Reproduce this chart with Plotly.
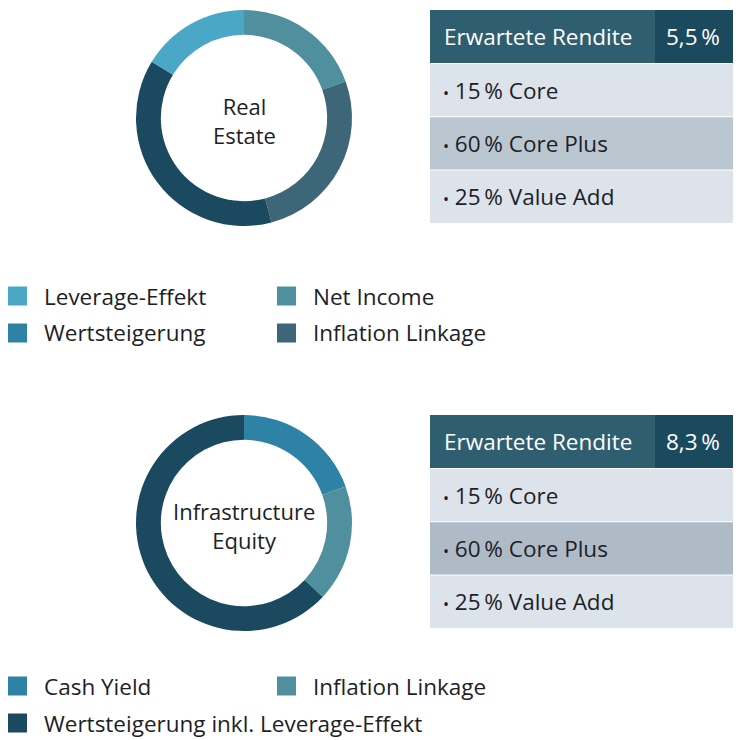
import plotly.graph_objects as go

W, H = 740, 740

# ---- data ----
re_labels = ["Net Income", "Inflation Linkage", "Wertsteigerung", "Leverage-Effekt"]
re_values = [19.5, 26.4, 37.8, 16.3]
re_colors = ["#508F9E", "#3D6679", "#1B4A60", "#4AA8C6"]

inf_labels = ["Cash Yield", "Inflation Linkage", "Wertsteigerung inkl. Leverage-Effekt"]
inf_values = [19.5, 17.5, 63.0]
inf_colors = ["#2E82A6", "#508F9E", "#1B4A60"]

re_legend = ["Leverage-Effekt", "Net Income", "Wertsteigerung", "Inflation Linkage"]
re_legend_colors = ["#4AA8C6", "#508F9E", "#2E82A6", "#3D6679"]
inf_legend = ["Cash Yield", "Inflation Linkage", "Wertsteigerung inkl. Leverage-Effekt"]
inf_legend_colors = ["#2E82A6", "#508F9E", "#1B4A60"]

table_header = "Erwartete Rendite"
returns = ["5,5\u2009%", "8,3\u2009%"]
table_rows = ["15\u2009% Core", "60\u2009% Core Plus", "25\u2009% Value Add"]
centre_titles = ["Real<br>Estate", "Infrastructure<br>Equity"]

FONT = "Open Sans"
FS = 22.5
FS_C = 22
TXT = "#1E1E28"

def px(x):
    return x / W

def py(y):
    return 1 - y / H

fig = go.Figure()
shapes = []
ann = []

blocks = [
    dict(labels=re_labels, values=re_values, colors=re_colors, top=10,
         legend=re_legend, lcolors=re_legend_colors, ltop=296,
         row_mid="#BAC7D1", ret=returns[0], title=centre_titles[0]),
    dict(labels=inf_labels, values=inf_values, colors=inf_colors, top=415,
         legend=inf_legend, lcolors=inf_legend_colors, ltop=686,
         row_mid="#AEBAC6", ret=returns[1], title=centre_titles[1]),
]

for b in blocks:
    t = b["top"]
    # donut
    fig.add_trace(go.Pie(
        labels=b["labels"], values=b["values"], hole=0.77, sort=False,
        direction="clockwise", rotation=0,
        marker=dict(colors=b["colors"], line=dict(width=0)),
        textinfo="none", hoverinfo="label+percent", showlegend=False,
        domain=dict(x=[px(136), px(352)], y=[py(t + 216), py(t)]),
    ))
    ann.append(dict(x=px(244), y=py(t + 110), xref="paper", yref="paper",
                    text=b["title"], showarrow=False, align="center",
                    xanchor="center", yanchor="middle",
                    font=dict(family=FONT, size=FS_C, color=TXT)))
    # table
    x0, x1, xs = 430, 733, 655
    hh = 53
    shapes.append(dict(type="rect", xref="paper", yref="paper", x0=px(x0), x1=px(xs),
                       y0=py(t + hh), y1=py(t), fillcolor="#2F5E71", line=dict(width=0)))
    shapes.append(dict(type="rect", xref="paper", yref="paper", x0=px(xs), x1=px(x1),
                       y0=py(t + hh), y1=py(t), fillcolor="#1B4A5F", line=dict(width=0)))
    ann.append(dict(x=px(442), y=py(t + hh / 2), xref="paper", yref="paper",
                    text=table_header, showarrow=False, xanchor="left", yanchor="middle",
                    font=dict(family=FONT, size=FS, color="white")))
    ann.append(dict(x=px(722), y=py(t + hh / 2), xref="paper", yref="paper",
                    text=b["ret"], showarrow=False, xanchor="right", yanchor="middle",
                    font=dict(family=FONT, size=FS, color="white")))
    rh = 53.3
    for i, r in enumerate(table_rows):
        y0 = t + hh + 1 + i * rh
        fill = b["row_mid"] if i == 1 else "#DCE3EA"
        shapes.append(dict(type="rect", xref="paper", yref="paper", x0=px(x0), x1=px(x1),
                           y0=py(y0 + rh - 1), y1=py(y0), fillcolor=fill, line=dict(width=0)))
        ann.append(dict(x=px(441), y=py(y0 + rh / 2 - 0.5), xref="paper", yref="paper",
                        text="<span style='font-size:16px'>\u2022</span> " + r,
                        showarrow=False, xanchor="left", yanchor="middle",
                        font=dict(family=FONT, size=FS, color=TXT)))
    # legend
    for i, (lab, col) in enumerate(zip(b["legend"], b["lcolors"])):
        row, colm = divmod(i, 2)
        lx = 8 if colm == 0 else 277
        ly = b["ltop"] + row * 37
        shapes.append(dict(type="rect", xref="paper", yref="paper", x0=px(lx), x1=px(lx + 19),
                           y0=py(ly + 9.5), y1=py(ly - 9.5), fillcolor=col, line=dict(width=0)))
        ann.append(dict(x=px(lx + 34), y=py(ly), xref="paper", yref="paper",
                        text=lab, showarrow=False, xanchor="left", yanchor="middle",
                        font=dict(family=FONT, size=FS, color=TXT)))

fig.update_layout(
    width=W, height=H, margin=dict(l=0, r=0, t=0, b=0),
    paper_bgcolor="white", plot_bgcolor="white",
    shapes=shapes, annotations=ann, showlegend=False,
)
fig.write_html("out.html", config={"displayModeBar": False},
               post_script="document.body.style.margin='0';document.body.style.overflow='hidden';")
